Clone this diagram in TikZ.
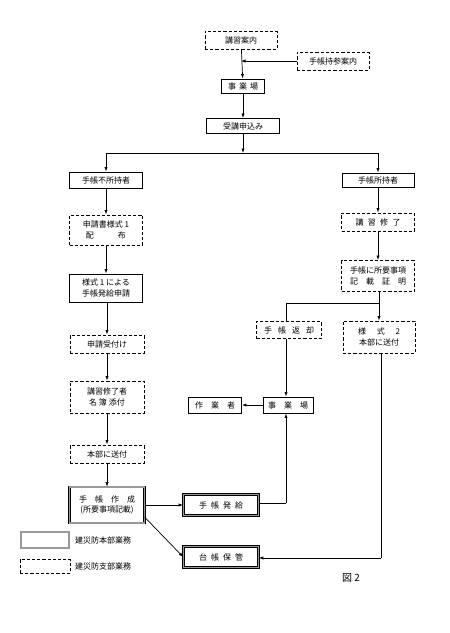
\documentclass[tikz,border=0pt]{standalone}
\usepackage{fontspec}
\setmainfont{Noto Sans CJK JP}
\usetikzlibrary{arrows.meta}
\newcommand\sprd[2]{\makebox[#1][s]{#2}}
\tikzset{
  x=1pt,y=-1pt,
  every node/.style={font=\fontsize{8}{10.5}\selectfont, inner sep=0pt, align=center},
  solidbox/.style={draw, line width=0.9pt, minimum width=#1},
  dashbox/.style={draw, line width=0.9pt, dash pattern=on 3.2pt off 2pt, minimum width=#1},
  dblbox/.style={draw, line width=0.6pt, double=black!40, double distance=1.6pt, minimum width=#1},
  conn/.style={line width=0.7pt},
  arr/.style={line width=0.7pt, -{Latex[length=4.5pt,width=3.2pt]}},
}
\begin{document}
\begin{tikzpicture}
\useasboundingbox (0,0) rectangle (450,633);
% top
\node[dashbox=72pt, minimum height=18pt] (annai) at (241,40) {講習案内};
\node[dashbox=72pt, minimum height=18pt] (jisan) at (333,61) {手帳持参案内};
\node[solidbox=43pt, minimum height=14pt] (jig1) at (243,86) {\sprd{30pt}{事\hfill 業\hfill 場}};
\node[solidbox=73pt, minimum height=15pt] (moshi) at (243,126) {受講申込み};
% branch
\coordinate (br) at (243,153);
\coordinate (brL) at (106,153);
\coordinate (brR) at (378,153);
\node[solidbox=73pt, minimum height=16pt] (fusho) at (106,180) {手帳不所持者};
\node[solidbox=72pt, minimum height=14pt] (sho) at (378,180) {手帳所持者};
% left column
\node[dashbox=73pt, minimum height=30pt] (shin1) at (106,230) {申請書様式 1\\\sprd{40pt}{配\hfill 布}};
\node[solidbox=73pt, minimum height=28pt] (yoshiki1) at (106,288) {様式 1 による\\手帳発給申請};
\node[dashbox=74pt, minimum height=18pt] (uke) at (107,344) {申請受付け};
\node[dashbox=74pt, minimum height=32pt] (meibo) at (107,397) {講習修了者\\名 簿 添付};
\node[dashbox=74pt, minimum height=18pt] (sofu) at (107,454) {本部に送付};
\node[dblbox=75pt, minimum height=36pt] (sakusei) at (107,505) {\sprd{56pt}{手\hfill 帳\hfill 作\hfill 成}\\(所要事項記載)};
% right column
\node[dashbox=73pt, minimum height=18pt] (shuryo) at (378,222) {\sprd{45pt}{講\hfill 習\hfill 修\hfill 了}};
\node[dashbox=73pt, minimum height=31pt] (kisai) at (378,276) {手帳に所要事項\\\sprd{56pt}{記\hfill 載\hfill 証\hfill 明}};
\coordinate (br2) at (379,303);
\coordinate (br2L) at (286,303);
\node[dashbox=65pt, minimum height=17pt] (henkyaku) at (289,330) {\sprd{50pt}{手\hfill 帳\hfill 返\hfill 却}};
\node[dashbox=72pt, minimum height=32pt] (yoshiki2) at (379,337) {\sprd{42pt}{様\hfill 式\hfill 2}\\本部に送付};
\node[solidbox=53pt, minimum height=16pt] (sagyo) at (215,405) {\sprd{40pt}{作\hfill 業\hfill 者}};
\node[solidbox=50pt, minimum height=16pt] (jig2) at (288,405) {\sprd{40pt}{事\hfill 業\hfill 場}};
% bottom
\node[dblbox=75pt, minimum height=21pt] (hakkyu) at (221,505) {\sprd{44pt}{手\hfill 帳\hfill 発\hfill 給}};
\node[dblbox=75pt, minimum height=21pt] (daicho) at (221,557) {\sprd{44pt}{台\hfill 帳\hfill 保\hfill 管}};
\coordinate (hk) at (286,503);
\coordinate (dc) at (381,558);
% legend
\node[dblbox=48pt, minimum height=16pt] (leg1) at (45,540) {};
\node[dashbox=50pt, minimum height=14pt] (leg2) at (45,566) {};
\node[anchor=west] (leg1t) at (75,540) {建災防本部業務};
\node[anchor=west] (leg2t) at (75,566) {建災防支部業務};
\node[font=\fontsize{10}{12}\selectfont] (zu) at (351,578) {図 2};
% connectors
\draw[arr] (annai) -- (jig1);
\draw[arr] (jisan.west) -- (annai.south |- jisan.west);
\draw[arr] (jig1) -- (moshi);
\draw[arr] (moshi) -- (br);
\draw[conn] (brL) -- (brR);
\draw[arr] (brL) -- (fusho);
\draw[arr] (brR) -- (sho);
\draw[arr] (fusho) -- (shin1);
\draw[arr] (shin1) -- (yoshiki1);
\draw[arr] (yoshiki1.south -| uke.north) -- (uke);
\draw[arr] (uke) -- (meibo);
\draw[arr] (meibo) -- (sofu);
\draw[arr] (sofu) -- (sakusei);
\draw[arr] (sho) -- (shuryo);
\draw[arr] (shuryo) -- (kisai);
\draw[conn] (kisai.south -| br2) -- (br2) -- (br2L) -- (br2L |- henkyaku.north);
\draw[arr] (br2) -- (br2 |- yoshiki2.north);
\draw[arr] (br2L |- henkyaku.south) -- (br2L |- jig2.north);
\draw[arr] (jig2) -- (sagyo);
\draw[arr] (sakusei.east |- hakkyu.west) -- (hakkyu.west);
\draw[arr] (sakusei.south east) ++(0,-6) -- (daicho.west);
\draw[conn] (hakkyu.east |- hk) -- (hk);
\draw[arr] (hk) -- (hk |- jig2.south);
\draw[conn] (dc |- yoshiki2.south) -- (dc);
\draw[arr] (dc) -- (daicho.east |- dc);
\end{tikzpicture}
\end{document}
